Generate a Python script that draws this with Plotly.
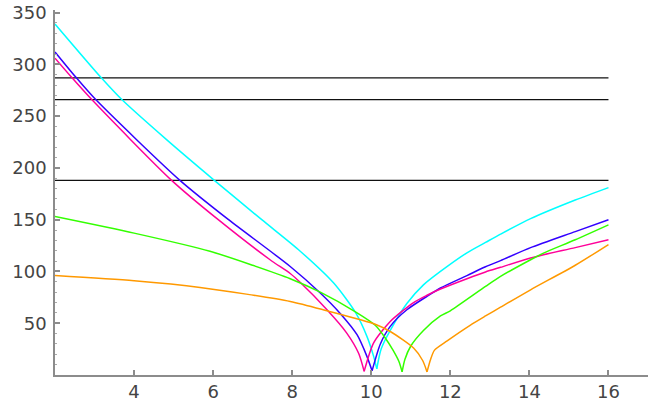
import plotly.graph_objects as go

# horizontal reference levels, drawn from x=2 to x=16
hline_x = [2, 16]
hline_levels = [287, 266, 188]

cyan_x = [2, 3.16, 3.69, 4.8, 6.03, 7.23, 8.16, 9.05, 9.6, 9.89, 10.06, 10.14,
          10.25, 10.48, 10.9, 11.32, 11.75, 12.42, 12.89, 13.27, 14.03, 15.16, 16]
cyan_y = [339, 287.5, 266, 228, 188, 150, 121, 88.8, 60.4, 37.3, 18, 6,
          25, 43, 69, 87, 100, 118, 128, 136, 151, 169, 181]

blue_x = [2, 2.53, 3.03, 5.16, 6.39, 7.95, 8.71, 9.22, 9.64, 9.89, 10.02,
          10.23, 10.48, 10.9, 11.41, 11.75, 12.42, 12.89, 13.27, 14.03, 15.16, 16]
blue_y = [312, 287.5, 266, 188, 150, 104.8, 79.2, 59.2, 38.9, 18, 4,
          30, 47, 63, 76, 84, 96, 104.5, 110.5, 123, 138.5, 150]

pink_x = [2, 2.42, 2.93, 4.95, 6.13, 7.44, 7.95, 8.2, 8.88, 9.38, 9.68, 9.82,
          10.06, 10.48, 11.07, 11.41, 11.75, 12.42, 12.89, 13.27, 14.03, 15.16, 16]
pink_y = [306, 287.5, 266, 188, 150, 111.3, 98, 89.5, 63, 40.5, 21, 3.5,
          31, 51.7, 70, 77, 83, 93, 99.5, 104, 113, 123, 130.6]

green_x = [2, 4, 5.92, 7, 7.95, 8.71, 9.6, 10.1, 10.35, 10.55, 10.7, 10.78,
           10.85, 11.0, 11.32, 11.75, 12.0, 12.89, 13.27, 14.03, 14.37, 15.16, 16]
green_y = [153, 137, 119.5, 106, 93, 80, 61, 48, 36, 24, 13, 3,
           15, 28, 43, 57, 62, 85.5, 95.2, 111.3, 118, 130.6, 145]

orange_x = [2, 4, 5.67, 7.95, 8.88, 10.1, 10.48, 11.07, 11.3, 11.41,
            11.5, 11.6, 11.92, 12.5, 12.89, 13.27, 14.03, 15.16, 16]
orange_y = [96, 91, 84.6, 71, 62, 49, 42, 26, 14, 3,
            15, 24, 33, 48, 57, 65.5, 82.3, 106, 126]

x_ticks = [4, 6, 8, 10, 12, 14, 16]
y_ticks = [50, 100, 150, 200, 250, 300, 350]

curvas = [
    (cyan_x, cyan_y, '#00ffff'),
    (blue_x, blue_y, '#3300ff'),
    (pink_x, pink_y, '#ff0099'),
    (green_x, green_y, '#33ff00'),
    (orange_x, orange_y, '#ff9900'),
]

fig = go.Figure()

for nivel in hline_levels:
    fig.add_trace(go.Scatter(x=hline_x, y=[nivel, nivel], mode='lines',
                             line=dict(color='#111111', width=1.3), hoverinfo='skip'))

# each curve is drawn as two branches (left and right of its cusp) so the
# smoothing does not round off the minimum
for xs, ys, color in curvas:
    k = ys.index(min(ys))
    for bx, by in [(xs[:k + 1], ys[:k + 1]), (xs[k:], ys[k:])]:
        fig.add_trace(go.Scatter(x=bx, y=by, mode='lines',
                                 line=dict(color=color, width=1.5, shape='spline', smoothing=0.7)))

fig.update_layout(
    width=654, height=404,
    margin=dict(l=55, r=6, t=10, b=29),
    plot_bgcolor='white', paper_bgcolor='white',
    showlegend=False,
    font=dict(family='DejaVu Sans', size=18, color='#444444'),
    xaxis=dict(
        range=[2, 17], showgrid=False, zeroline=False, automargin=False,
        showline=True, linecolor='#8c8c8c', linewidth=1.5,
        tickmode='array', tickvals=x_ticks, ticktext=[str(v) for v in x_ticks],
        ticks='inside', ticklen=5, tickwidth=1.5, tickcolor='#8c8c8c',
        ticklabelstandoff=0,
    ),
    yaxis=dict(
        range=[0, 352.5], showgrid=False, zeroline=False, automargin=False,
        showline=True, linecolor='#8c8c8c', linewidth=1.5,
        tickmode='array', tickvals=y_ticks, ticktext=[str(v) for v in y_ticks],
        ticks='inside', ticklen=5, tickwidth=1.5, tickcolor='#8c8c8c',
        minor=dict(dtick=10, ticks='inside', ticklen=2.5, tickwidth=1, tickcolor='#aaaaaa', showgrid=False),
        ticklabelstandoff=3,
    ),
)

# quitar el margen del body para que la figura quede en (0, 0) de la ventana
fig.write_html("out.html", config={'displayModeBar': False},
               post_script="document.body.style.margin='0';")
